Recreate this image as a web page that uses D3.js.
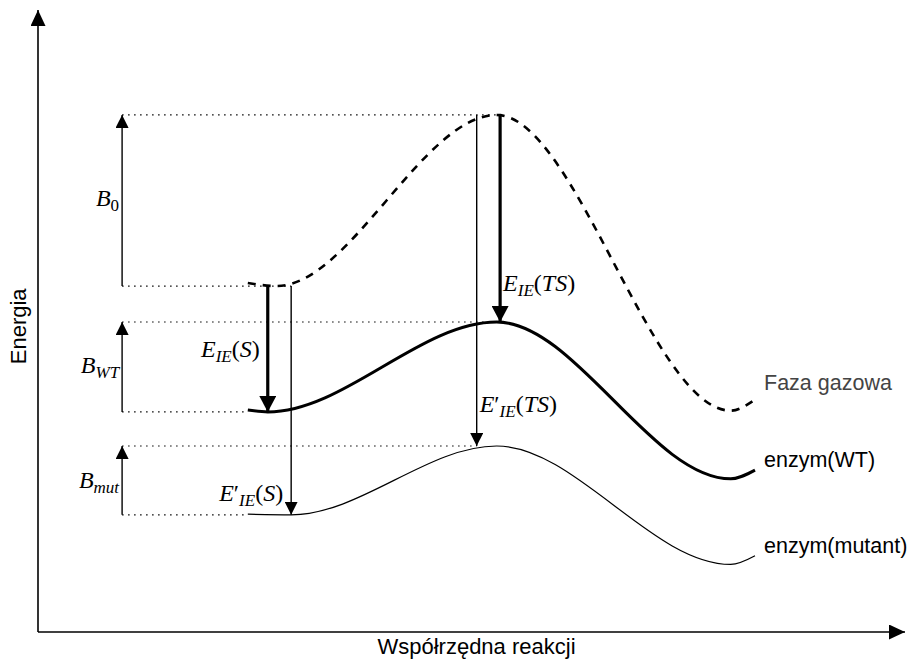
<!DOCTYPE html>
<html>
<head>
<meta charset="utf-8">
<script src="https://cdn.jsdelivr.net/npm/d3@7"></script>
<style>
  body { margin: 0; background: #fff; }
  .sans { font-family: "Liberation Sans", Arial, sans-serif; }
  .math { font-family: "Liberation Serif", "DejaVu Serif", serif; }
</style>
</head>
<body>
<script>
// reaction coordinate / energy (both in 0..100 arbitrary units)
var gasX = [24.2, 27.5, 52.9, 79.9, 82.4];
var gasE = [56.3, 55.8, 83.4, 35.7, 37.2];
var wtX  = [24.2, 26.5, 52.9, 79.9, 82.7];
var wtE  = [35.8, 35.5, 50.0, 24.7, 26.1];
var mutX = [24.2, 29.2, 52.9, 79.9, 82.7];
var mutE = [19.0, 18.9, 30.0, 10.9, 12.3];

var curveNames = ["Faza gazowa", "enzym(WT)", "enzym(mutant)"];
var axisTitles = ["Współrzędna reakcji", "Energia"];

// x positions of the arrows
var barrierX = 9.7;
var ieSX = [26.5, 29.2];     // E_IE(S), E'_IE(S)
var ieTSX = [53.3, 50.6];    // E_IE(TS), E'_IE(TS)

var W = 910, H = 659;
var margin = {top: 12, right: 5, bottom: 27, left: 38};

var x = d3.scaleLinear().domain([0, 100]).range([margin.left, W - margin.right]);
var y = d3.scaleLinear().domain([0, 100]).range([H - margin.bottom, margin.top]);

var svg = d3.select("body").append("svg")
    .attr("width", W)
    .attr("height", H);

var defs = svg.append("defs");
function marker(id, w, l) {
  defs.append("marker")
      .attr("id", id)
      .attr("markerUnits", "userSpaceOnUse")
      .attr("viewBox", "0 0 " + l + " " + w)
      .attr("refX", l).attr("refY", w / 2)
      .attr("markerWidth", l).attr("markerHeight", w)
      .attr("orient", "auto")
    .append("path")
      .attr("d", "M0,0L" + l + "," + (w / 2) + "L0," + w + "Z")
      .attr("fill", "#000");
}
marker("head", 13, 13);
marker("headBold", 17, 16);
marker("axisHead", 15, 16);

// axes
svg.append("line")
    .attr("x1", x(0)).attr("y1", y(0))
    .attr("x2", x(0)).attr("y2", y(100) - 2)
    .attr("stroke", "#000").attr("stroke-width", 1.6)
    .attr("marker-end", "url(#axisHead)");
svg.append("line")
    .attr("x1", x(0)).attr("y1", y(0))
    .attr("x2", x(100)).attr("y2", y(0))
    .attr("stroke", "#000").attr("stroke-width", 1.6)
    .attr("marker-end", "url(#axisHead)");

svg.append("text").attr("class", "sans")
    .attr("x", (x(0) + x(100)) / 2 + 5).attr("y", H - 5)
    .attr("text-anchor", "middle").attr("font-size", 22)
    .text(axisTitles[0]);
svg.append("text").attr("class", "sans")
    .attr("transform", "translate(26," + y(49.3) + ") rotate(-90)")
    .attr("text-anchor", "middle").attr("font-size", 22)
    .text(axisTitles[1]);

// dotted guide lines
var guides = [
  [gasE[2], ieTSX[0]],
  [gasE[1], ieSX[1]],
  [wtE[2], wtX[2]],
  [wtE[1], wtX[0]],
  [mutE[2], ieTSX[1]],
  [mutE[1], mutX[0]]
];
svg.selectAll(".guide")
    .data(guides)
    .enter().append("line")
    .attr("class", "guide")
    .attr("x1", x(barrierX)).attr("x2", function(d) { return x(d[1]); })
    .attr("y1", function(d) { return y(d[0]); })
    .attr("y2", function(d) { return y(d[0]); })
    .attr("stroke", "#000").attr("stroke-width", 1.2)
    .attr("stroke-dasharray", "1.5,4.5");

// energy profiles
var line = d3.line()
    .x(function(d) { return x(d[0]); })
    .y(function(d) { return y(d[1]); })
    .curve(d3.curveMonotoneX);

var profiles = [
  {xs: gasX, es: gasE, w: 2.6, dash: "8,7"},
  {xs: wtX, es: wtE, w: 3, dash: null},
  {xs: mutX, es: mutE, w: 1.2, dash: null}
];
profiles.forEach(function(p, i) {
  svg.append("path")
      .attr("d", line(d3.zip(p.xs, p.es)))
      .attr("fill", "none")
      .attr("stroke", "#000")
      .attr("stroke-width", p.w)
      .attr("stroke-dasharray", p.dash);
  svg.append("text").attr("class", "sans")
      .attr("x", 764)
      .attr("y", y(p.es[4]) + [-11, -3, -3][i])
      .attr("font-size", 21.5)
      .attr("fill", i == 0 ? "#444" : "#000")
      .text(curveNames[i]);
});

// arrows
function arrow(xv, from, to, bold) {
  svg.append("line")
      .attr("x1", x(xv)).attr("x2", x(xv))
      .attr("y1", y(from)).attr("y2", y(to))
      .attr("stroke", "#000")
      .attr("stroke-width", bold ? 3.2 : 1.4)
      .attr("marker-end", bold ? "url(#headBold)" : "url(#head)");
}
arrow(barrierX, gasE[1], gasE[2], false);
arrow(barrierX, wtE[1], wtE[2], false);
arrow(barrierX, mutE[1], mutE[2], false);
arrow(ieSX[0], gasE[1], wtE[1], true);
arrow(ieSX[1], gasE[1], mutE[1], false);
arrow(ieTSX[0], gasE[2], wtE[2], true);
arrow(ieTSX[1], gasE[2], mutE[2], false);

// math labels: segments [text, italic, subscript]
function mathLabel(px, py, anchor, segs) {
  var t = svg.append("text").attr("class", "math")
      .attr("x", px).attr("y", py)
      .attr("text-anchor", anchor)
      .attr("font-size", 24);
  var sub = false;
  segs.forEach(function(s) {
    var ts = t.append("tspan")
        .attr("font-style", s[1] ? "italic" : "normal")
        .text(s[0]);
    if (s[2] && !sub) { ts.attr("dy", 5).attr("font-size", 17); sub = true; }
    else if (s[2]) { ts.attr("font-size", 17); }
    else if (sub) { ts.attr("dy", -5); sub = false; }
  });
}
var B = function(sub, it) { return [["B", true, false], [sub, it, true]]; };
var E = function(prime, arg) {
  var s = [["E", true, false]];
  if (prime) s.push(["\u2032", false, false]);
  s.push(["IE", true, true], ["(", false, false], [arg, true, false], [")", false, false]);
  return s;
};

mathLabel(x(barrierX) - 3, y((gasE[1] + gasE[2]) / 2) + 6, "end", B("0", false));
mathLabel(x(barrierX) - 3, y((wtE[1] + wtE[2]) / 2) + 6, "end", B("WT", true));
mathLabel(x(barrierX) - 3, y((mutE[1] + mutE[2]) / 2) + 8, "end", B("mut", true));
mathLabel(x(ieSX[0]) - 8, y((gasE[1] + wtE[1]) / 2) + 8, "end", E(false, "S"));
mathLabel(x(ieSX[1]) - 8, y(mutE[1]) - 14, "end", E(true, "S"));
mathLabel(x(ieTSX[0]) + 3, y(wtE[2]) - 31, "start", E(false, "TS"));
mathLabel(x(ieTSX[1]) + 3, y(mutE[2]) - 34, "start", E(true, "TS"));
</script>
</body>
</html>
